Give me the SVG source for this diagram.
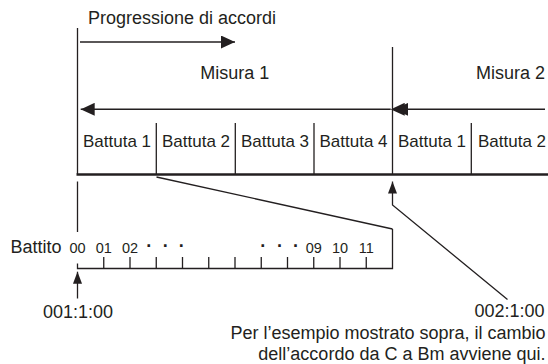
<svg xmlns="http://www.w3.org/2000/svg" width="548" height="364" viewBox="0 0 548 364">
<style>
text{font-family:"Liberation Sans",Arial,Helvetica,sans-serif;fill:#231f20}
.l{font-size:18px}
.b{font-size:17px;text-anchor:middle}
.n{font-size:14.5px;text-anchor:middle}
.d{font-size:18px;text-anchor:middle;font-weight:bold}
.ln{stroke:#231f20;stroke-width:1.3;fill:none}
.ar{stroke:#231f20;stroke-width:1.6;fill:none}
</style>
<defs>
<marker id="big" markerUnits="userSpaceOnUse" markerWidth="14" markerHeight="13" refX="14" refY="6.5" orient="auto" viewBox="0 0 14 13">
<path d="M0,0 L14,6.5 L0,13 z" fill="#231f20"/>
</marker>
<marker id="small" markerUnits="userSpaceOnUse" markerWidth="12" markerHeight="9" refX="12" refY="4.5" orient="auto" viewBox="0 0 12 9">
<path d="M0,0 L12,4.5 L0,9 z" fill="#231f20"/>
</marker>
</defs>
<rect width="548" height="364" fill="#fff"/>

<g id="frame">
<line class="ln" x1="77.5" y1="28" x2="77.5" y2="174"/>
<line class="ln" x1="392.5" y1="47" x2="392.5" y2="174"/>
<line class="ln" x1="156.3" y1="123" x2="156.3" y2="174"/>
<line class="ln" x1="235.3" y1="123" x2="235.3" y2="174"/>
<line class="ln" x1="314" y1="123" x2="314" y2="174"/>
<line class="ln" x1="471.3" y1="123" x2="471.3" y2="174"/>
<line x1="76.5" y1="174.5" x2="548" y2="174.5" stroke="#231f20" stroke-width="2.6"/>
</g>

<g id="progressione">
<text class="l" x="88" y="24">Progressione di accordi</text>
</g>
<g id="misura1"><text class="l" x="234.7" y="78.5" text-anchor="middle">Misura 1</text></g>
<g id="misura2"><text class="l" x="545" y="78.5" text-anchor="end">Misura 2</text></g>

<g id="battuta-m1-1"><text class="b" x="117" y="146.7">Battuta 1</text></g>
<g id="battuta-m1-2"><text class="b" x="196" y="146.7">Battuta 2</text></g>
<g id="battuta-m1-3"><text class="b" x="275" y="146.7">Battuta 3</text></g>
<g id="battuta-m1-4"><text class="b" x="353.5" y="146.7">Battuta 4</text></g>
<g id="battuta-m2-1"><text class="b" x="432" y="146.7">Battuta 1</text></g>
<g id="battuta-m2-2"><text class="b" x="512" y="146.7">Battuta 2</text></g>

<g id="ruler">
<line class="ln" x1="77.5" y1="181.5" x2="77.5" y2="232"/>
<path class="ln" d="M77.5,263.5 V268.5 H392.5 V229"/>
<path class="ln" d="M103.75,257 V268.5 M130,257 V268.5 M156.25,257 V268.5 M182.5,257 V268.5 M208.75,257 V268.5 M235,257 V268.5 M261.25,257 V268.5 M287.5,257 V268.5 M313.75,257 V268.5 M340,257 V268.5 M366.25,257 V268.5"/>
<text class="l" x="61.5" y="252.5" text-anchor="end">Battito</text>
<text class="n" x="77.5" y="252.5">00</text>
<text class="n" x="103.75" y="252.5">01</text>
<text class="n" x="130" y="252.5">02</text>
<text class="d" x="149.3 165.7 181.7" y="252">···</text>
<text class="d" x="263.3 280 296" y="252">···</text>
<text class="n" x="313.75" y="252.5">09</text>
<text class="n" x="340" y="252.5">10</text>
<text class="n" x="366.25" y="252.5">11</text>
</g>

<g id="pos-start"><text class="l" x="78" y="318.3" text-anchor="middle">001:1:00</text></g>
<g id="pos-change">
<text class="l" x="544.5" y="317.3" text-anchor="end">002:1:00</text>
<text class="l" x="545.5" y="339" text-anchor="end" font-size="18.5">Per l’esempio mostrato sopra, il cambio</text>
<text class="l" x="545.5" y="360" text-anchor="end" font-size="18.5">dell’accordo da C a Bm avviene qui.</text>
</g>

<g id="connectors">
<line class="ar" x1="80" y1="42" x2="235" y2="42" marker-end="url(#big)"/>
<line class="ar" x1="390.7" y1="109.3" x2="80.7" y2="109.3" marker-start="url(#big)" marker-end="url(#big)"/>
<line class="ar" x1="545" y1="109.3" x2="394.3" y2="109.3" marker-end="url(#big)"/>
<line class="ln" x1="156.5" y1="177" x2="392.5" y2="229"/>
<line class="ln" x1="77.5" y1="298.5" x2="77.5" y2="271.7" marker-end="url(#small)"/>
<polyline class="ln" points="507.5,299.5 392.5,205 392.5,181.5" marker-end="url(#small)"/>
</g>
</svg>
